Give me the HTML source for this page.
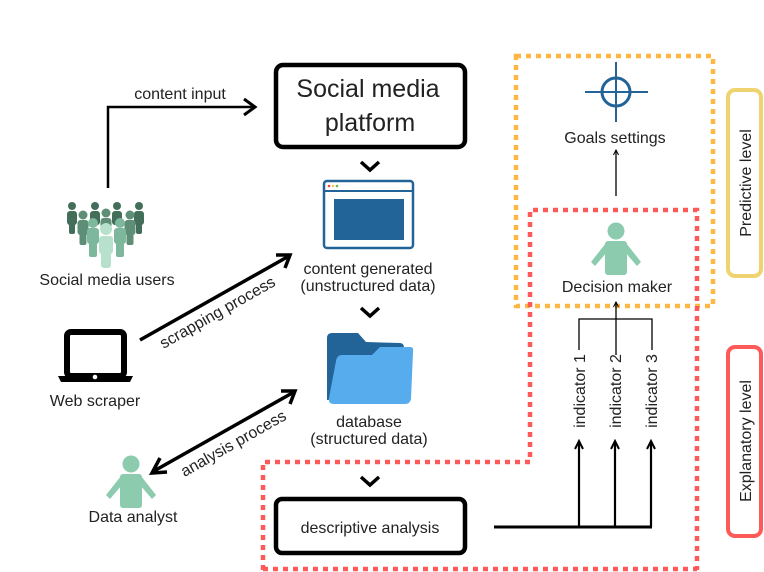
<!DOCTYPE html>
<html><head><meta charset="utf-8"><style>
html,body{margin:0;padding:0;background:#fff;}
svg{display:block;font-family:"Liberation Sans",sans-serif;}
</style></head><body>
<svg width="764" height="572" viewBox="0 0 764 572" xmlns="http://www.w3.org/2000/svg">
<defs>
<g id="person"><circle cx="0" cy="-10" r="3.6"/><rect x="-4.5" y="-6" width="9" height="16" rx="2.5"/><rect x="-2.8" y="6" width="5.6" height="14" rx="2"/></g>
</defs>
<!-- dashed regions -->
<rect x="516" y="56" width="197" height="250" fill="none" stroke="#ffb743" stroke-width="4.5" stroke-dasharray="5,5"/>
<path d="M263 570 L263 462 L530 462 L530 210 L697 210 L697 570" fill="none" stroke="#ff5a5a" stroke-width="4.5" stroke-dasharray="5,5"/>
<path d="M263 569 L697 569" fill="none" stroke="#ff5a5a" stroke-width="4.5" stroke-dasharray="5,5"/>
<!-- level boxes -->
<rect x="728" y="90" width="33" height="186" rx="7" fill="#fff" stroke="#efd36e" stroke-width="4"/>
<text transform="translate(751,183) rotate(-90)" text-anchor="middle" font-size="16" fill="#222">Predictive level</text>
<rect x="728" y="347" width="33" height="189" rx="7" fill="#fff" stroke="#ff5a5a" stroke-width="4"/>
<text transform="translate(751,441) rotate(-90)" text-anchor="middle" font-size="16" fill="#222">Explanatory level</text>

<!-- social media platform -->
<rect x="276" y="65" width="189" height="82" rx="7" fill="#fff" stroke="#000" stroke-width="4.5"/>
<text x="368" y="97" text-anchor="middle" font-size="25" fill="#222">Social media</text>
<text x="370" y="131" text-anchor="middle" font-size="25" fill="#222">platform</text>
<path d="M361 162 L370 170 L379 162" fill="none" stroke="#000" stroke-width="3.5"/>
<!-- browser -->
<rect x="324" y="181" width="89" height="67" rx="3" fill="#fff" stroke="#236498" stroke-width="2.5"/>
<line x1="324" y1="191" x2="413" y2="191" stroke="#236498" stroke-width="2"/>
<circle cx="329" cy="186" r="1.3" fill="#e44"/><circle cx="333" cy="186" r="1.3" fill="#ec4"/><circle cx="337" cy="186" r="1.3" fill="#6b4"/>
<rect x="334" y="199" width="70" height="41" fill="#236498"/>
<text x="368" y="274" text-anchor="middle" font-size="16" fill="#222">content generated</text>
<text x="368" y="291" text-anchor="middle" font-size="16" fill="#222">(unstructured data)</text>
<path d="M361 308 L370 316 L379 308" fill="none" stroke="#000" stroke-width="3.5"/>
<!-- folder -->
<path d="M332 333 L358 333 L366 342 L400 343 Q404 343 404 348 L404 395 L327 400 L327 338 Q327 333 332 333 Z" fill="#236498"/>
<path d="M342 355 L372 355 L380 347 L410 347 Q414 347 413 352 L411 399 Q410 404 405 404 L334 404 Q328 404 329 398 L336 361 Q337 355 342 355 Z" fill="#56acec"/>
<text x="369" y="427" text-anchor="middle" font-size="16" fill="#222">database</text>
<text x="369" y="444" text-anchor="middle" font-size="16" fill="#222">(structured data)</text>
<path d="M361 477 L370 485 L379 477" fill="none" stroke="#000" stroke-width="3.5"/>
<!-- descriptive analysis -->
<rect x="276" y="499" width="189" height="54" rx="6" fill="#fff" stroke="#000" stroke-width="4.5"/>
<text x="370" y="533" text-anchor="middle" font-size="16" fill="#222">descriptive analysis</text>

<!-- indicators -->
<g stroke="#000" fill="none">
<line x1="494" y1="527" x2="652" y2="527" stroke-width="3"/>
<line x1="579" y1="527" x2="579" y2="442" stroke-width="2.2"/>
<line x1="615" y1="527" x2="615" y2="442" stroke-width="2.2"/>
<line x1="651" y1="527" x2="651" y2="442" stroke-width="2.2"/>
<path d="M575 449 L579 441 L583 449" stroke-width="2"/>
<path d="M611 449 L615 441 L619 449" stroke-width="2"/>
<path d="M647 449 L651 441 L655 449" stroke-width="2"/>
<path d="M579 350 L579 319 L652 319 L652 350" stroke-width="1.3"/>
<line x1="616" y1="355" x2="616" y2="302" stroke-width="1.3"/>
<path d="M613.5 307 L616 302 L618.5 307" stroke-width="1"/>
<line x1="616" y1="196" x2="616" y2="150" stroke-width="1.3"/>
<path d="M613.5 155 L616 150 L618.5 155" stroke-width="1"/>
</g>
<text transform="translate(585,391) rotate(-90)" text-anchor="middle" font-size="16" fill="#222">indicator 1</text>
<text transform="translate(621,391) rotate(-90)" text-anchor="middle" font-size="16" fill="#222">indicator 2</text>
<text transform="translate(657,391) rotate(-90)" text-anchor="middle" font-size="16" fill="#222">indicator 3</text>

<!-- goals -->
<circle cx="616" cy="92" r="14" fill="none" stroke="#236498" stroke-width="3"/>
<line x1="585" y1="92" x2="648" y2="92" stroke="#236498" stroke-width="2"/>
<line x1="616" y1="62" x2="616" y2="122" stroke="#236498" stroke-width="2"/>
<text x="615" y="143" text-anchor="middle" font-size="16" fill="#222">Goals settings</text>
<!-- decision maker -->
<g fill="#8ccbae">
<circle cx="616" cy="231" r="8.5"/>
<rect x="605" y="241" width="22" height="34" rx="3"/>
<path d="M606 243 L591 262 L595 266 L607 252 Z"/><path d="M626 243 L641 262 L637 266 L625 252 Z"/>
</g>
<text x="617" y="292" text-anchor="middle" font-size="16" fill="#222">Decision maker</text>

<!-- content input -->
<path d="M108 188 L108 107 L254 107" fill="none" stroke="#000" stroke-width="2.5"/>
<path d="M244 99 L255 107 L244 115" fill="none" stroke="#000" stroke-width="3"/>
<text x="180" y="99" text-anchor="middle" font-size="16" fill="#222">content input</text>

<!-- crowd -->
<g transform="translate(0,0)">
<g fill="#436e5a"><g transform="translate(72,216)"><circle cx="0" cy="-10" r="4"/><rect x="-5" y="-5" width="10" height="14" rx="3"/><rect x="-3" y="5" width="6" height="13" rx="2"/></g>
<g transform="translate(95,216)"><circle cx="0" cy="-10" r="4"/><rect x="-5" y="-5" width="10" height="14" rx="3"/></g>
<g transform="translate(117,216)"><circle cx="0" cy="-10" r="4"/><rect x="-5" y="-5" width="10" height="14" rx="3"/></g>
<g transform="translate(139,216)"><circle cx="0" cy="-10" r="4"/><rect x="-5" y="-5" width="10" height="14" rx="3"/><rect x="-3" y="5" width="6" height="13" rx="2"/></g></g>
<g fill="#5e8f76"><g transform="translate(83,225)"><circle cx="0" cy="-10" r="4.5"/><rect x="-5.5" y="-5" width="11" height="15" rx="3"/><rect x="-3.5" y="6" width="7" height="14" rx="2"/></g>
<g transform="translate(106,223)"><circle cx="0" cy="-10" r="4.5"/><rect x="-5.5" y="-5" width="11" height="15" rx="3"/></g>
<g transform="translate(130,225)"><circle cx="0" cy="-10" r="4.5"/><rect x="-5.5" y="-5" width="11" height="15" rx="3"/><rect x="-3.5" y="6" width="7" height="14" rx="2"/></g></g>
<g fill="#7db79c"><g transform="translate(93,233)"><circle cx="0" cy="-10" r="5"/><rect x="-6" y="-5" width="12" height="16" rx="3"/><rect x="-4" y="7" width="8" height="17" rx="2"/></g>
<g transform="translate(120,233)"><circle cx="0" cy="-10" r="5"/><rect x="-6" y="-5" width="12" height="16" rx="3"/><rect x="-4" y="7" width="8" height="17" rx="2"/></g></g>
<g fill="#b7e0cd"><circle cx="106" cy="229" r="6"/><rect x="99" y="236" width="14" height="18" rx="3"/><rect x="101" y="250" width="10" height="18" rx="3"/></g>
</g>
<text x="107" y="285" text-anchor="middle" font-size="16" fill="#222">Social media users</text>

<!-- laptop -->
<rect x="67" y="332" width="57" height="44" rx="4" fill="none" stroke="#000" stroke-width="6"/>
<path d="M58 376 L133 376 L130 382 L61 382 Z" fill="#000"/>
<circle cx="95" cy="377" r="2.3" fill="#fff"/>
<text x="95" y="406" text-anchor="middle" font-size="16" fill="#222">Web scraper</text>

<!-- scrapping arrow -->
<line x1="140" y1="340" x2="289" y2="256" stroke="#000" stroke-width="3.5"/>
<path d="M276 255 L290 255 L285 268" fill="none" stroke="#000" stroke-width="3.5"/>
<text transform="translate(220,317) rotate(-29.5)" text-anchor="middle" font-size="16" fill="#222">scrapping process</text>

<!-- analysis arrow -->
<line x1="154" y1="471" x2="294" y2="392" stroke="#000" stroke-width="3.5"/>
<path d="M281 391 L295 391 L290 404" fill="none" stroke="#000" stroke-width="3.5"/>
<path d="M160 458 L152 473 L167 472" fill="none" stroke="#000" stroke-width="3.5"/>
<text transform="translate(236,448) rotate(-29.5)" text-anchor="middle" font-size="16" fill="#222">analysis process</text>

<!-- data analyst -->
<g fill="#8ccbae">
<circle cx="131" cy="464" r="8.5"/>
<rect x="120" y="474" width="22" height="34" rx="3"/>
<path d="M121 476 L106 495 L110 499 L122 485 Z"/><path d="M141 476 L156 495 L152 499 L140 485 Z"/>
</g>
<text x="133" y="522" text-anchor="middle" font-size="16" fill="#222">Data analyst</text>
</svg>
</body></html>
